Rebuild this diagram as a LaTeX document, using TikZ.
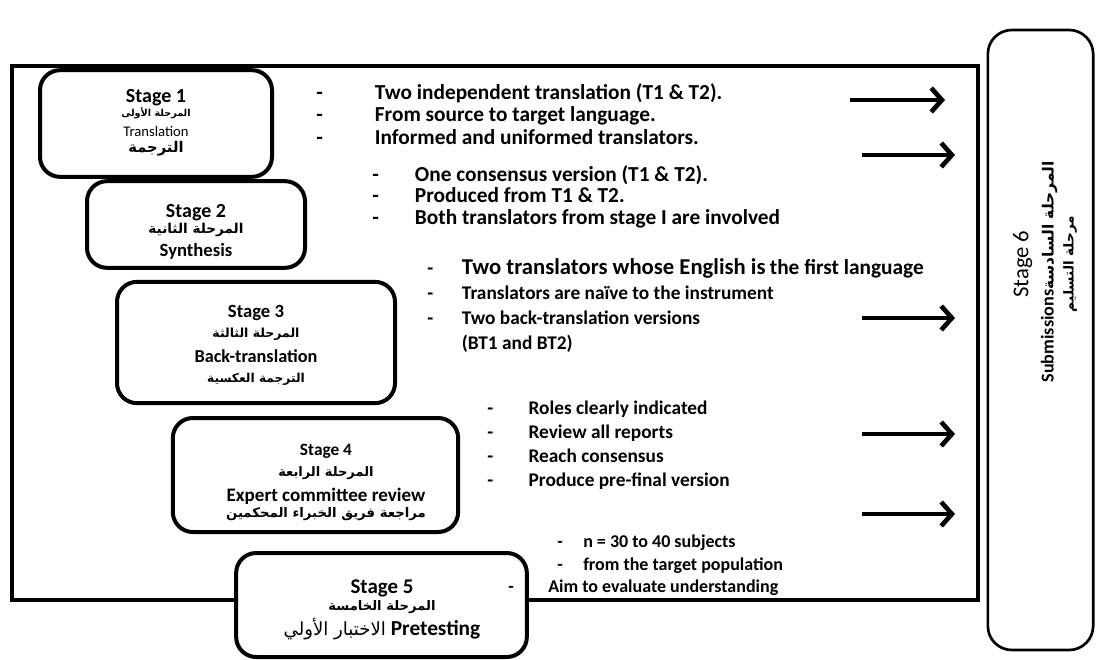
\documentclass[tikz,border=0pt]{standalone}
\usepackage{fontspec}
\setmainfont{Carlito}
\newfontfamily\arabicfont[Script=Arabic,Scale=0.85]{DejaVu Sans}
\TeXXeTstate=1
\usetikzlibrary{arrows.meta}
\newcommand{\artext}[1]{{\arabicfont\beginR #1\endR}}
\newcommand{\fs}[1]{\fontsize{#1}{11}\selectfont}
\tikzset{
  stagebox/.style={draw,line width=3pt,rounded corners=15pt,fill=white,inner sep=0pt},
  stagetext/.style={align=center,inner sep=0pt,
    font={\fontsize{12}{11}\selectfont\lineskiplimit=-30pt}},
  notes/.style={anchor=north west,align=left,inner sep=0pt},
  flow/.style={line width=3.5pt,-{Straight Barb[length=8pt,width=18pt,line width=3.5pt]}}
}

\begin{document}
\begin{tikzpicture}[x=0.75pt,y=-0.75pt]
\useasboundingbox (0,0) rectangle (1097,660);
% outer frame
\draw[line width=2.5pt] (12,66) rectangle (978,600);
% stage boxes
\node[stagebox,minimum width=174pt,minimum height=80pt] (s1) at (156,123.5) {};
\node[stagebox,minimum width=163.5pt,minimum height=65pt] (s2) at (196,224.5) {};
\node[stagebox,minimum width=208.5pt,minimum height=91pt] (s3) at (256,342.5) {};
\node[stagebox,minimum width=214pt,minimum height=85.5pt] (s4) at (315.5,475) {};
\node[stagebox,minimum width=218pt,minimum height=78pt] (s5) at (381.5,605) {};
\node[stagebox,line width=2pt,rounded corners=18pt,minimum width=79pt,minimum height=465pt] (s6) at (1040.5,340) {};
% stage titles
\node[stagetext] (t1) at (156,122.5)
  {{\fs{15}\bfseries Stage 1}\\[-0.5pt]
   {\fs{8.5}\bfseries\artext{المرحلة الأولى}}\\[4pt]
   {\fs{11}Translation}\\[1pt]
   {\fs{13}\bfseries\artext{الترجمة}}};
\node[stagetext] (t2) at (196,232)
  {{\fs{15}\bfseries Stage 2}\\[1.5pt]
   {\fs{12}\bfseries\artext{المرحلة الثانية}}\\[6.3pt]
   {\fs{14}\bfseries Synthesis}};
\node[stagetext] (t3) at (256,345.5)
  {{\fs{14}\bfseries Stage 3}\\[4pt]
   {\fs{11}\bfseries\artext{المرحلة الثالثة}}\\[7.8pt]
   {\fs{13.7}\bfseries Back-translation}\\[4pt]
   {\fs{10.8}\bfseries\artext{الترجمة العكسية}}};
\node[stagetext] (t4) at (326,482.5)
  {{\fs{13}\bfseries Stage 4}\\[4.5pt]
   {\fs{11.5}\bfseries\artext{المرحلة الرابعة}}\\[8.25pt]
   {\fs{14.3}\bfseries Expert committee review}\\[0.75pt]
   {\fs{11.7}\bfseries\artext{مراجعة فريق الخبراء المحكمين}}};
\node[stagetext] (t5) at (382,609.5)
  {{\fs{15.7}\bfseries Stage 5}\\[1.75pt]
   {\fs{11.6}\bfseries\artext{المرحلة الخامسة}}\\[7.75pt]
   {\fs{16}\artext{الاختبار الأولي} \textbf{Pretesting}}};
\node[stagetext,rotate=90] (t6) at (1045,272)
  {{\fs{17}\hspace*{12pt}Stage 6}\\[7.8pt]
   {\fs{13.6}\bfseries Submissions\artext{المرحلة السادسة}}\\[4pt]
   {\fs{12}\bfseries\hspace*{12pt}\artext{مرحلة التسليم}}};
% notes for each stage
\node[notes,font=\bfseries\fontsize{16}{16.9}\selectfont] (n1) at (316,83)
  {\makebox[44pt][l]{-}Two independent translation (T1 \& T2).\\
   \makebox[44pt][l]{-}From source to target language.\\
   \makebox[44pt][l]{-}Informed and uniformed translators.};
\node[notes,font=\bfseries\fontsize{16}{16.3}\selectfont] (n2) at (372,165)
  {\makebox[32pt][l]{-}One consensus version (T1 \& T2).\\
   \makebox[32pt][l]{-}Produced from T1 \& T2.\\
   \makebox[32pt][l]{-}Both translators from stage I are involved};
\node[notes,font=\bfseries\fontsize{14.5}{18.75}\selectfont] (n3) at (427,258)
  {\makebox[26pt][l]{-}{\fontsize{17}{18.75}\selectfont Two translators whose English is} {\fontsize{16}{18.75}\selectfont the first language}\\
   \makebox[26pt][l]{-}Translators are naïve to the instrument\\
   \makebox[26pt][l]{-}Two back-translation versions\\
   \makebox[26pt][l]{}(BT1 and BT2)};
\node[notes,font=\bfseries\fontsize{14.5}{17.8}\selectfont] (n4) at (487,401)
  {\makebox[31pt][l]{-}Roles clearly indicated\\
   \makebox[31pt][l]{-}Review all reports\\
   \makebox[31pt][l]{-}Reach consensus\\
   \makebox[31pt][l]{-}Produce pre-final version};
\node[notes,font=\bfseries\fontsize{13.5}{16.9}\selectfont] (n5) at (508,535)
  {\hspace*{36.75pt}\makebox[19.5pt][l]{-}n = 30 to 40 subjects\\
   \hspace*{36.75pt}\makebox[19.5pt][l]{-}from the target population\\
   \makebox[30pt][l]{-}Aim to evaluate understanding};
% arrows towards stage 6
\coordinate (a1) at (850,100);
\coordinate (b1) at (945,100);
\coordinate (a2) at (862,155);
\coordinate (b2) at (955,155);
\coordinate (a3) at (862,318);
\coordinate (b3) at (955,318);
\coordinate (a4) at (862,434);
\coordinate (b4) at (955,434);
\coordinate (a5) at (862,514);
\coordinate (b5) at (955,514);
\draw[flow] (a1) -- (b1);
\draw[flow] (a2) -- (b2);
\draw[flow] (a3) -- (b3);
\draw[flow] (a4) -- (b4);
\draw[flow] (a5) -- (b5);
\end{tikzpicture}
\end{document}
